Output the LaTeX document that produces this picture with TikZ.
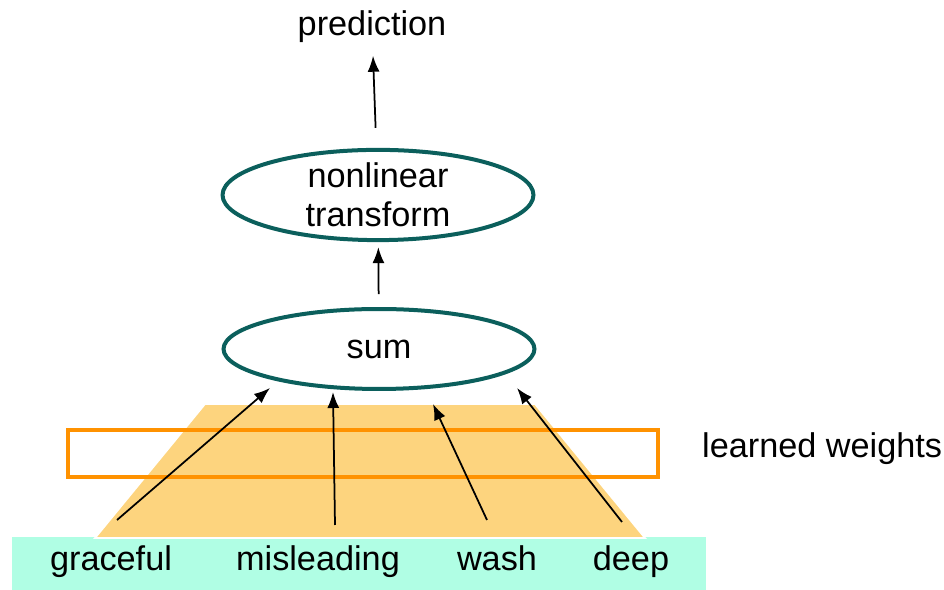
\documentclass[tikz,border=0pt]{standalone}
\usepackage{fontspec}
\setmainfont{Liberation Sans}
\usetikzlibrary{shapes.geometric,arrows.meta,positioning}
\definecolor{unitline}{HTML}{0B5F5C}
\definecolor{bagfill}{HTML}{FDD47E}
\definecolor{weightline}{HTML}{FF9200}
\definecolor{wordband}{HTML}{B0FEE4}
\tikzstyle{unit} = [ellipse, draw=unitline, line width=0.08cm, inner sep=0pt,
    minimum width=6.22cm, minimum height=1.6cm, align=center]
\tikzstyle{word} = [anchor=base, inner sep=3pt]
\tikzstyle{line} = [draw, line width=0.035cm, -{Latex[length=0.32cm,width=0.24cm]}]

\begin{document}
\begin{tikzpicture}[x=0.02cm,y=-0.02cm,font=\fontsize{19.5}{22}\selectfont]

    \useasboundingbox (0,0) rectangle (944,590);

    % input words and the bag under them
    \fill[wordband] (12,537) rectangle (706,590);
    \filldraw[fill=bagfill, draw=white, line width=1pt] (205,404) -- (535,404) -- (645,538) -- (95,538) -- cycle;
    \draw[weightline, line width=0.065cm] (68,430) rectangle (658,477);

    \node [word] (graceful) at (111,571) {graceful};
    \node [word] (misleading) at (318,571) {misleading};
    \node [word] (wash) at (497,571) {wash};
    \node [word] (deep) at (631,571) {deep};
    \node [anchor=west] (weights) at (696,449) {learned weights};

    \node [unit] (sum) at (379,349) {sum};
    \node [unit] (nonlin) at (378,195) {nonlinear\\transform};
    \node [word] (pred) at (372,36) {prediction};

    % free ends of the word arrows
    \coordinate (graceful-in) at (117,520);
    \coordinate (graceful-out) at (270,388);
    \coordinate (misleading-in) at (335,525);
    \coordinate (misleading-out) at (333,392);
    \coordinate (wash-in) at (487,520);
    \coordinate (wash-out) at (433,404);
    \coordinate (deep-in) at (622,522);
    \coordinate (deep-out) at (517,388);

    % Draw edges
    \path [line] (graceful-in) -- (graceful-out);
    \path [line] (misleading-in) -- (misleading-out);
    \path [line] (wash-in) -- (wash-out);
    \path [line] (deep-in) -- (deep-out);
    \path [line, shorten <=0.26cm, shorten >=0.1cm] (sum) -- (nonlin);
    \path [line, shorten <=0.4cm, shorten >=0.14cm] (nonlin) -- (pred);

\end{tikzpicture}
\end{document}
